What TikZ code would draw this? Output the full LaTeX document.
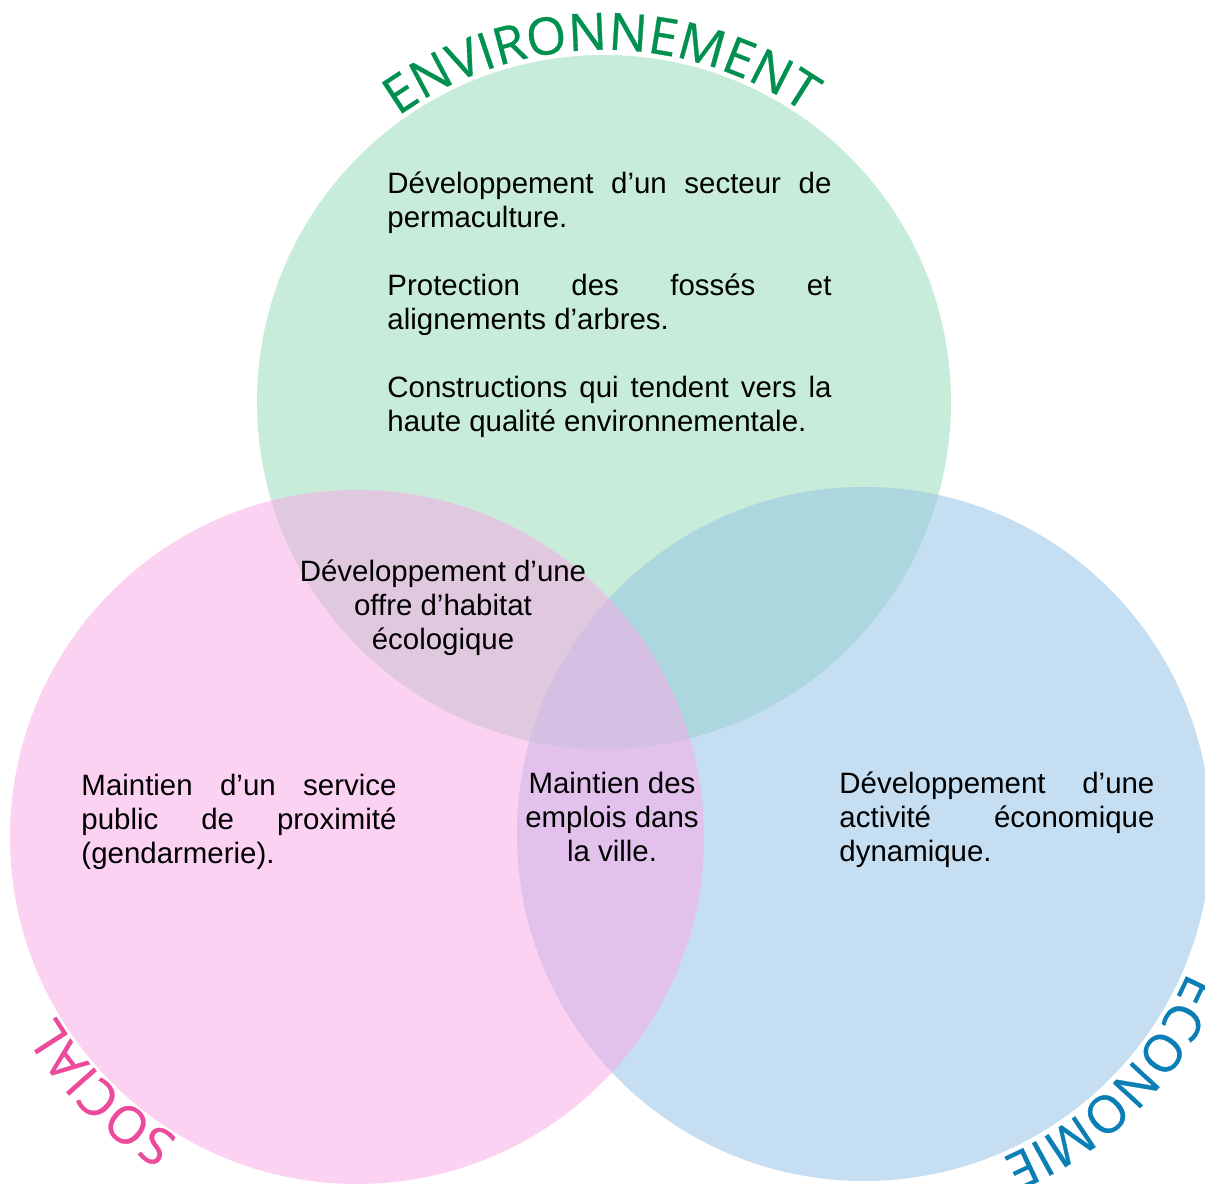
\documentclass[tikz,border=0pt]{standalone}
\usepackage{fontspec}
\setmainfont{Liberation Sans}
\newfontfamily\labelfont[FakeBold=0.6]{Open Sans}
\usepackage{tikz}
\usetikzlibrary{decorations.text}

\definecolor{envfill}{HTML}{C7ECD9}
\definecolor{socfill}{HTML}{FCD2F2}
\definecolor{ecofill}{HTML}{C6DEF1}
\definecolor{envsocfill}{HTML}{E0C9DF}
\definecolor{envecofill}{HTML}{ACD7DE}
\definecolor{socecofill}{HTML}{E2C2EC}
\definecolor{allfill}{HTML}{D5BFE3}
\definecolor{envtext}{HTML}{00904F}
\definecolor{soctext}{HTML}{EC4A9B}
\definecolor{ecotext}{HTML}{0B7FB5}

\begin{document}
\begin{tikzpicture}[x=0.01433cm, y=0.01433cm,
  txt/.style={inner sep=0pt, font=\fontsize{12}{13.86}\selectfont},
  lbl/.style={decorate, decoration={text along path, text align=center}}]
  \useasboundingbox (0,0) rectangle (1205,1184);
  \clip (0,0) rectangle (1205,1184);

  % the three circles
  \fill[envfill] (604,782) circle (347);
  \fill[socfill] (357,347) circle (347);
  \fill[ecofill] (864,350) circle (347);
  \begin{scope}
    \clip (357,347) circle (347);
    \fill[socecofill] (864,350) circle (347);
  \end{scope}
  \begin{scope}
    \clip (604,782) circle (347);
    \fill[envsocfill] (357,347) circle (347);
    \fill[envecofill] (864,350) circle (347);
    \clip (357,347) circle (347);
    \fill[allfill] (864,350) circle (347);
  \end{scope}

  % curved titles
  \path[lbl, decoration={text color=envtext,
    text={|\labelfont\fontsize{21}{21}\selectfont|ENVIRONNEMENT}}]
    (604,782) ++(160:352) arc[start angle=160, end angle=21, radius=352];
  \path[lbl, decoration={text color=soctext,
    text={|\labelfont\fontsize{21}{21}\selectfont|SOCIAL}}]
    (357,347) ++(285:350) arc[start angle=285, end angle=165, radius=350];
  \path[lbl, decoration={text color=ecotext,
    text={|\labelfont\fontsize{21}{21}\selectfont|ÉCONOMIE}}]
    (864,350) ++(15:352) arc[start angle=15, end angle=-105, radius=352];

  % texts
  \node[txt, anchor=base west, text width=181pt, align=justify] (envlist) at (387,990)
    {Développement d’un secteur de\linebreak permaculture.\\[13.86pt]
     Protection des fossés et\linebreak alignements d’arbres.\\[13.86pt]
     Constructions qui tendent vers la\linebreak haute qualité environnementale.};
  \node[txt, anchor=base, align=center] (envsoc) at (443,534)
    {Développement d’une\\ offre d’habitat\\ écologique};
  \node[txt, anchor=base west, text width=128.4pt, align=justify] (soclist) at (81,388)
    {Maintien d’un service\linebreak public de proximité\linebreak (gendarmerie).};
  \node[txt, anchor=base, align=center] (socheco) at (612,322)
    {Maintien des\\ emplois dans\\ la ville.};
  \node[txt, anchor=base west, text width=128.4pt, align=justify] (ecolist) at (839,390)
    {Développement d’une\linebreak activité économique\linebreak dynamique.};
\end{tikzpicture}
\end{document}
